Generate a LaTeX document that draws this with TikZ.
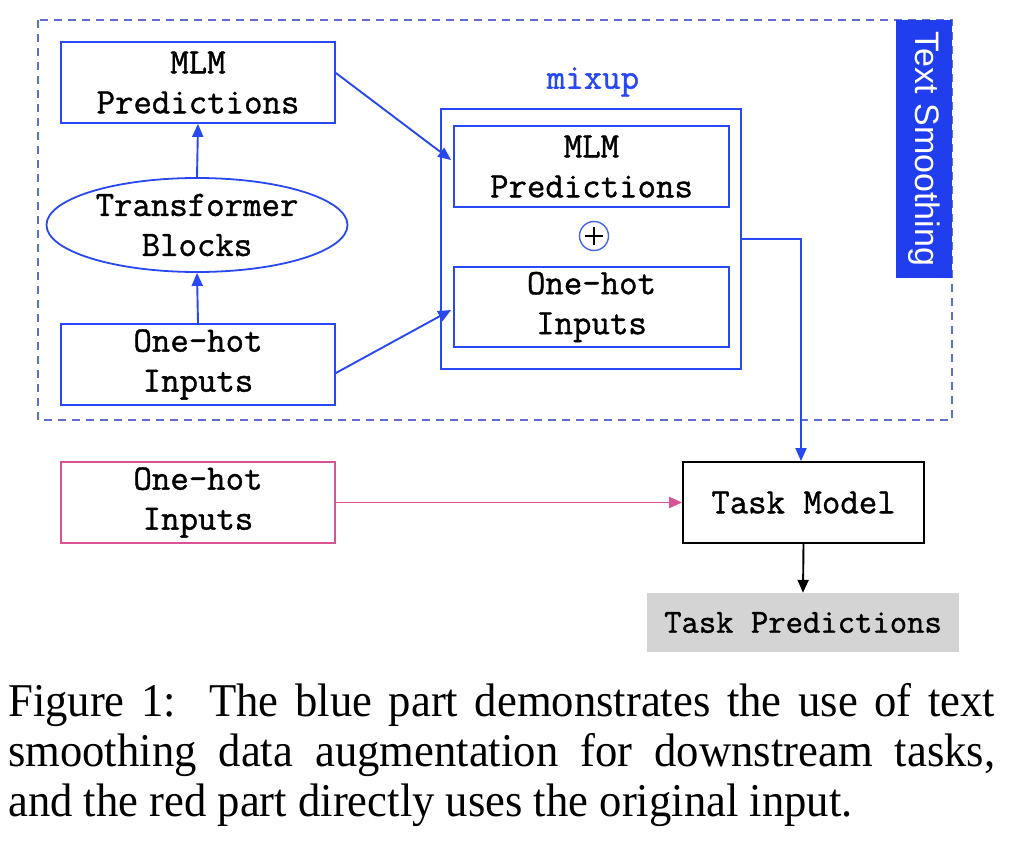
\documentclass[tikz,border=0pt]{standalone}
\usepackage{fontspec}
\setmainfont{Liberation Serif}
\newfontfamily\monof{Latin Modern Mono}[FakeBold=1.1]
\newfontfamily\sansf{Liberation Sans}
\newfontfamily\capf[FakeStretch=0.95]{Liberation Serif}
\usetikzlibrary{arrows.meta,shapes.geometric}
\definecolor{bl}{RGB}{40,72,242}
\definecolor{dashbl}{RGB}{95,110,205}
\definecolor{tsfill}{RGB}{32,62,238}
\definecolor{pk}{RGB}{218,82,150}
\definecolor{gr}{RGB}{212,212,212}
\tikzset{
  mono/.style={font=\monof\fontsize{35.8}{40}\selectfont, align=center},
  bbox/.style={draw=bl, line width=1.8pt, rectangle, inner sep=0pt, mono},
  arr/.style={line width=1.9pt, -{Triangle[length=13pt,width=11pt]}},
}
\begin{document}
\begin{tikzpicture}[x=1pt,y=-1pt]
\useasboundingbox (0,0) rectangle (1020,850);
% dashed region
\draw[dashbl, line width=1.6pt, dash pattern=on 8pt off 6pt] (38,20) rectangle (952,420);
\node[fill=tsfill, minimum width=56pt, minimum height=258pt, inner sep=0pt] (ts) at (924,149) {};
\node[rotate=-90, text=white, font=\sansf\fontsize{34}{40}\selectfont] (tst) at (924,149) {Text Smoothing};
% left column
\node[bbox, minimum width=274pt, minimum height=81pt] (mlmL) at (198,82.5) {MLM\\Predictions};
\node[draw=bl, line width=1.8pt, ellipse, minimum width=301pt, minimum height=94pt, inner sep=0pt, mono] (tb) at (197,225) {Transformer\\Blocks};
\node[bbox, minimum width=274pt, minimum height=81pt] (ohL) at (198,364.5) {One-hot\\Inputs};
% mixup
\node[mono, text=bl] (mixlbl) at (593,82) {mixup};
\node[draw=bl, line width=1.8pt, minimum width=300pt, minimum height=260pt, inner sep=0pt] (mix) at (591,239) {};
\node[bbox, minimum width=275pt, minimum height=81pt] (mlmM) at (591.5,166.5) {MLM\\Predictions};
\node[bbox, minimum width=275pt, minimum height=80pt] (ohM) at (591.5,307) {One-hot\\Inputs};
\node[circle, draw=bl!85, line width=1.4pt, minimum size=29pt, inner sep=0pt] (op) at (594,236) {};
\draw[line width=2.6pt, black] ([xshift=-9pt]op.center) -- ([xshift=9pt]op.center)
  ([yshift=-9pt]op.center) -- ([yshift=9pt]op.center);
% bottom
\node[draw=pk, line width=1.8pt, minimum width=274pt, minimum height=81pt, inner sep=0pt, mono] (ohR) at (198,502.5) {One-hot\\Inputs};
\node[draw=black, line width=1.8pt, minimum width=241pt, minimum height=81pt, inner sep=0pt, mono] (task) at (803.5,502.5) {Task Model};
\node[fill=gr, minimum width=312pt, minimum height=59pt, inner sep=0pt, font=\monof\fontsize{33.7}{36}\selectfont] (pred) at (803,622.5) {Task Predictions};
% arrows
\draw[arr, bl] (ohL.north) -- (tb.south);
\draw[arr, bl] (tb.north) -- (mlmL.south);
\draw[arr, bl] ([yshift=9.5pt]mlmL.east) -- ([yshift=6.5pt,xshift=-2pt]mlmM.west);
\draw[arr, bl] ([yshift=-8.5pt]ohL.east) -- ([yshift=-3pt,xshift=-2pt]ohM.west);
\draw[arr, bl] (mix.east) -| ([xshift=-2.5pt]task.north);
\draw[arr, pk] (ohR.east) -- (task.west);
\draw[arr, black] (task.south) -- (pred.north);
% caption
\node[anchor=base west, inner sep=0pt, font=\capf\fontsize{47}{50}\selectfont] (c1) at (8,716) {\makebox[987pt][s]{Figure 1:\ \ The blue part demonstrates the use of text}};
\node[anchor=base west, inner sep=0pt, font=\capf\fontsize{47}{50}\selectfont] (c2) at (8,766) {\makebox[987pt][s]{smoothing data augmentation for downstream tasks,}};
\node[anchor=base west, inner sep=0pt, font=\capf\fontsize{47}{50}\selectfont] (c3) at (8,816) {and the red part directly uses the original input.};
\end{tikzpicture}
\end{document}
